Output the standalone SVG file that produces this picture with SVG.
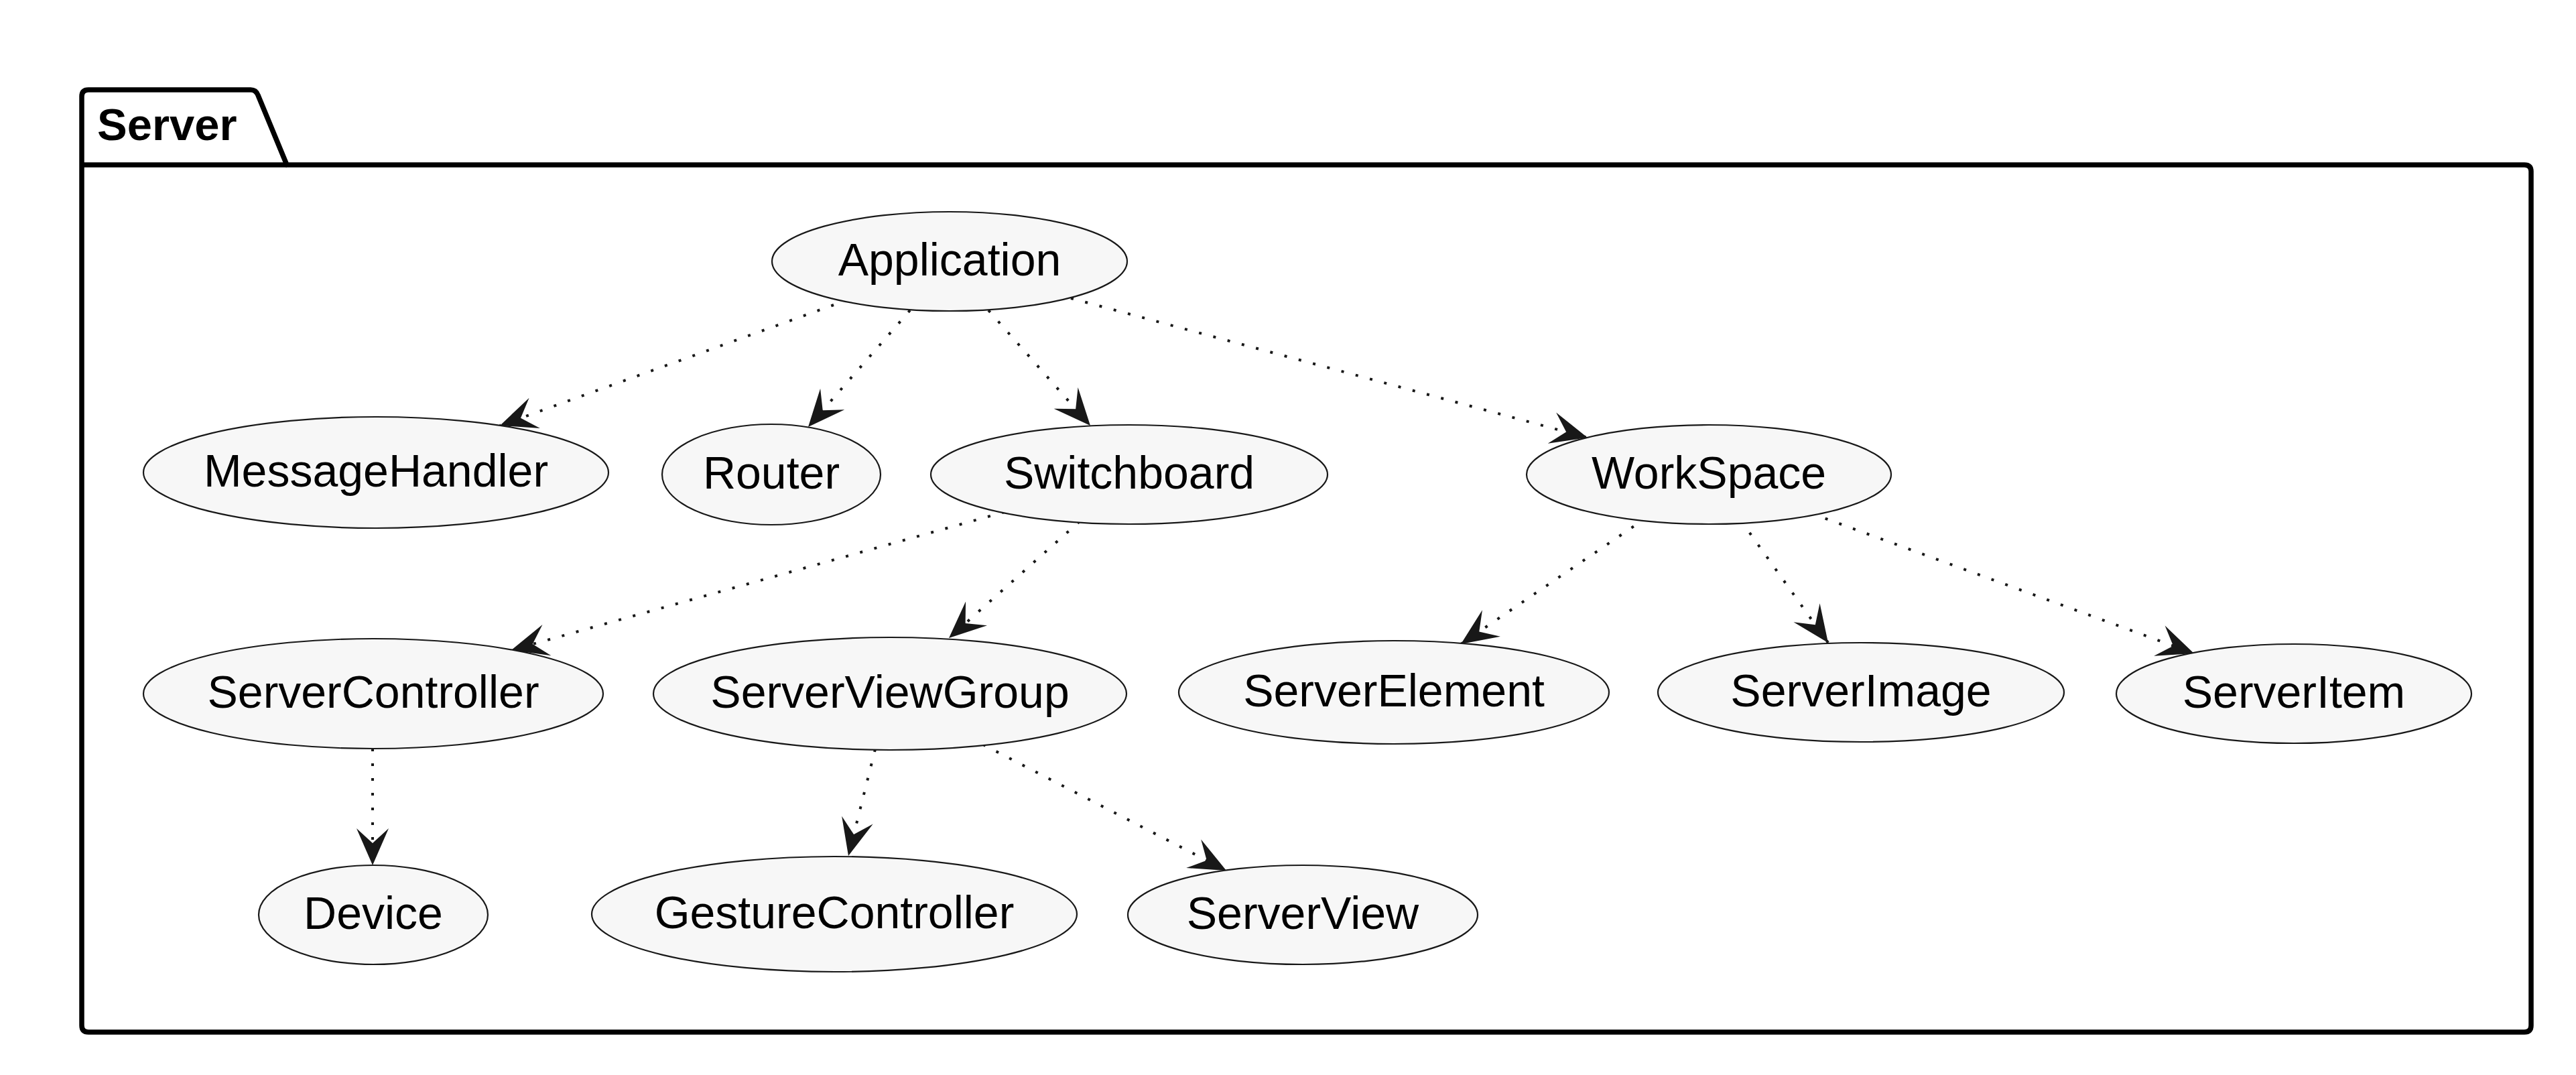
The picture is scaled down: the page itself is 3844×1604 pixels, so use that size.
<svg xmlns="http://www.w3.org/2000/svg" width="3844" height="1604" viewBox="0 0 3844 1604">
<style>
  .uc ellipse { fill: #F7F7F7; stroke: #181818; stroke-width: 2.2; }
  .uc text { font-family: "Liberation Sans", Arial, sans-serif; font-size: 68px; fill: #000000; text-anchor: middle; }
  .pkg { fill: none; stroke: #000000; stroke-width: 7.5; stroke-linejoin: round; }
  .pkgtitle { font-family: "Liberation Sans", Arial, sans-serif; font-size: 67px; font-weight: bold; fill: #000000; }
  .dep { stroke: #181818; stroke-width: 4; stroke-dasharray: 4 18; fill: none; marker-end: url(#arr); }
</style>
<defs>
  <marker id="arr" markerUnits="userSpaceOnUse" viewBox="-58 -26 60 52" refX="0" refY="0" markerWidth="60" markerHeight="52" orient="auto">
    <path d="M0,0 L-55,-24 L-33,0 L-55,24 Z" fill="#181818"/>
  </marker>
</defs>
<rect width="3844" height="1604" fill="#FFFFFF"/>

<g id="package-Server">
  <path class="pkg" d="M122,1530 L122,144 Q122,134 132,134 L374,134 Q382,134 385,142 L428,246 L3767,246 Q3777,246 3777,256 L3777,1530 Q3777,1540 3767,1540 L132,1540 Q122,1540 122,1530 Z"/>
  <line class="pkg" x1="122" y1="246" x2="428" y2="246"/>
  <text class="pkgtitle" x="145" y="209">Server</text>
</g>

<g id="connectors">
  <line class="dep" x1="1244" y1="455" x2="746" y2="635"/>
  <line class="dep" x1="1358" y1="463" x2="1206" y2="637"/>
  <line class="dep" x1="1475" y1="463" x2="1627" y2="635"/>
  <line class="dep" x1="1598" y1="445" x2="2369" y2="653"/>
  <line class="dep" x1="1499" y1="764" x2="763" y2="970"/>
  <line class="dep" x1="1611" y1="778" x2="1416" y2="952"/>
  <line class="dep" x1="2456" y1="773" x2="2180" y2="961"/>
  <line class="dep" x1="2598" y1="777" x2="2728" y2="959"/>
  <line class="dep" x1="2703" y1="766" x2="3274" y2="975"/>
  <line class="dep" x1="556" y1="1117" x2="556" y2="1291"/>
  <line class="dep" x1="1306" y1="1118" x2="1266" y2="1277"/>
  <line class="dep" x1="1467" y1="1111" x2="1830" y2="1299"/>
</g>

<g id="Application" class="uc"><ellipse cx="1417" cy="390" rx="265" ry="74"/><text x="1417" y="411">Application</text></g>
<g id="MessageHandler" class="uc"><ellipse cx="561" cy="705" rx="347" ry="83"/><text x="561" y="726">MessageHandler</text></g>
<g id="Router" class="uc"><ellipse cx="1151" cy="708" rx="163" ry="75"/><text x="1151" y="729">Router</text></g>
<g id="Switchboard" class="uc"><ellipse cx="1685" cy="708" rx="296" ry="74"/><text x="1685" y="729">Switchboard</text></g>
<g id="WorkSpace" class="uc"><ellipse cx="2550" cy="708" rx="272" ry="74"/><text x="2550" y="729">WorkSpace</text></g>
<g id="ServerController" class="uc"><ellipse cx="557" cy="1035" rx="343" ry="82"/><text x="557" y="1056">ServerController</text></g>
<g id="ServerViewGroup" class="uc"><ellipse cx="1328" cy="1035" rx="353" ry="84"/><text x="1328" y="1056">ServerViewGroup</text></g>
<g id="ServerElement" class="uc"><ellipse cx="2080" cy="1033" rx="321" ry="77"/><text x="2080" y="1054">ServerElement</text></g>
<g id="ServerImage" class="uc"><ellipse cx="2777" cy="1033" rx="303" ry="74"/><text x="2777" y="1054">ServerImage</text></g>
<g id="ServerItem" class="uc"><ellipse cx="3423" cy="1035" rx="265" ry="74"/><text x="3423" y="1056">ServerItem</text></g>
<g id="Device" class="uc"><ellipse cx="557" cy="1365" rx="171" ry="74"/><text x="557" y="1386">Device</text></g>
<g id="GestureController" class="uc"><ellipse cx="1245" cy="1364" rx="362" ry="86"/><text x="1245" y="1385">GestureController</text></g>
<g id="ServerView" class="uc"><ellipse cx="1944" cy="1365" rx="261" ry="74"/><text x="1944" y="1386">ServerView</text></g>
</svg>
